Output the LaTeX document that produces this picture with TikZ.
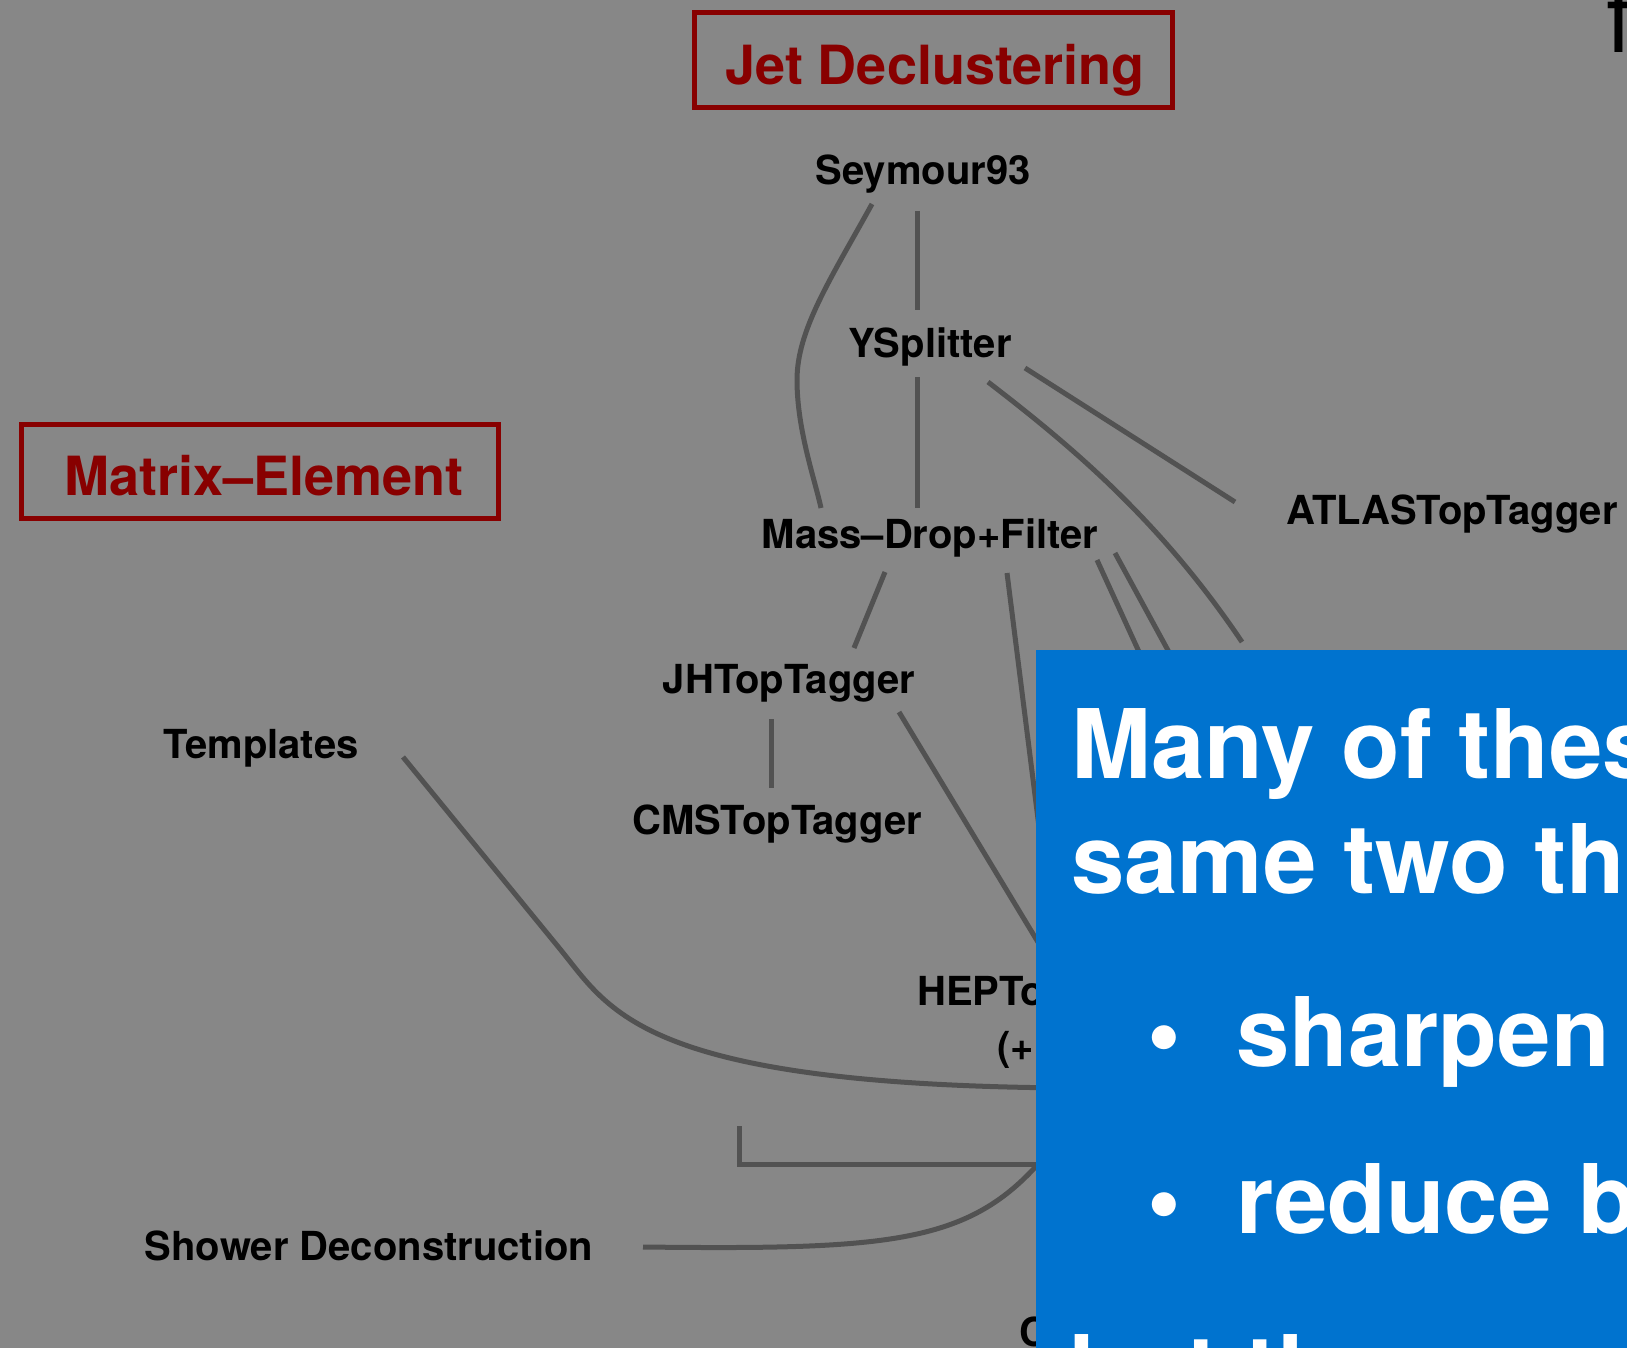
\documentclass[tikz,border=0pt]{standalone}
\usepackage{fontspec}
\setmainfont{TeX Gyre Heros}
\usepackage{xcolor}
\usetikzlibrary{positioning,calc}

\definecolor{bggray}{RGB}{135,135,135}
\definecolor{lngray}{RGB}{82,82,82}
\definecolor{dkred}{RGB}{136,0,0}
\definecolor{slideblue}{RGB}{0,115,207}

\begin{document}
\begin{tikzpicture}[
  x=1pt, y=-1pt,
  lbl/.style={font=\fontsize{40}{48}\selectfont\bfseries, text=black,
              inner sep=0pt, anchor=base},
  ttl/.style={font=\fontsize{54}{64}\selectfont\bfseries, text=dkred,
              inner sep=0pt, anchor=base},
  ttlbox/.style={draw=dkred, line width=5pt, inner sep=0pt},
  note/.style={fill=slideblue, inner sep=0pt, anchor=north west},
  notetxt/.style={font=\fontsize{96}{115}\selectfont\bfseries, text=white,
                  inner sep=0pt, anchor=base west},
  conn/.style={draw=lngray, line width=5pt},
]

\useasboundingbox (0,0) rectangle (1627,1348);
\clip (0,0) rectangle (1627,1348);
\fill[bggray] (0,0) rectangle (1627,1348);

%% Group titles
\node[ttlbox, minimum width=478pt, minimum height=95pt] (jetbox) at (933.5,60) {};
\node[ttl] (jettxt) at (935,85) {Jet Declustering};
\node[ttlbox, minimum width=477pt, minimum height=94pt] (mebox) at (260,471.5) {};
\node[ttl] (metxt) at (264,495) {Matrix--Element};

%% Taggers
\node[lbl] (seym) at (923,185) {Seymour93};
\node[lbl] (ysplit) at (930,357) {YSplitter};
\node[lbl] (mdf) at (930,548) {Mass--Drop+Filter};
\node[lbl] (atlas) at (1452,524) {ATLASTopTagger};
\node[lbl] (jhtt) at (789,693) {JHTopTagger};
\node[lbl] (cmstt) at (777,834) {CMSTopTagger};
\node[lbl] (templ) at (261,758) {Templates};
\node[lbl] (showdec) at (369,1260) {Shower Deconstruction};
\node[lbl, anchor=base west] (hept) at (917,1005) {HEPTo};
\node[lbl, anchor=base west] (heptb) at (997,1060) {(+};
\node[lbl, anchor=base west] (cbot) at (1019,1346) {C};

%% Free ends under the note
\coordinate (endA) at (1242,642);
\coordinate (endB) at (1161,700);
\coordinate (endC) at (1195,700);
\coordinate (endD) at (1040,835);
\coordinate (endE) at (1070,1088);
\coordinate (endF) at (739,1126);
\coordinate (endG) at (1070,1164);
\coordinate (endH) at (1050,1150);

%% Links
\draw[conn] ($(seym.base)+(-6,26)$) -- ($(ysplit.base)+(-13,-47)$);
\draw[conn] ($(ysplit.base)+(-13,20)$) -- ($(mdf.base)+(-13,-40)$);
\draw[conn] ($(seym.base)+(-51,19)$) .. controls (830,280) and (797,330) .. (797,380)
  .. controls (797,430) and (815,480) .. ($(mdf.base)+(-109,-40)$);
\draw[conn] ($(ysplit.base)+(95,11)$) -- ($(atlas.base)+(-217,-22)$);
\draw[conn] ($(ysplit.base)+(58,25)$) .. controls (1070,445) and (1160,520) .. (endA);
\draw[conn] ($(mdf.base)+(167,12)$) -- (endB);
\draw[conn] ($(mdf.base)+(185,5)$) -- (endC);
\draw[conn] ($(mdf.base)+(77,25)$) -- (endD);
\draw[conn] ($(mdf.base)+(-45,24)$) -- ($(jhtt.base)+(65,-45)$);
\draw[conn] ($(jhtt.base)+(-18,26)$) -- ($(cmstt.base)+(-6,-46)$);
\draw[conn] ($(jhtt.base)+(110,19)$) -- ($(hept.base west)+(133,-43)$);
\draw[conn] ($(templ.base)+(142,-1)$) -- (560,949)
  .. controls (610,1010) and (640,1085) .. (endE);
\draw[conn] (endF) |- (endG);
\draw[conn] ($(showdec.base)+(274,-13)$) .. controls (900,1250) and (975,1243) .. (endH);

%% Overlay note
\node[note, minimum width=600pt, minimum height=700pt] (notebox) at (1036,650) {};
\node[notetxt] (line1) at (1071,778) {Many of thes};
\node[notetxt] (line2) at (1071,893) {same two th};
\node[notetxt, anchor=base] (bul1) at (1164,1066) {\textbullet};
\node[notetxt] (item1) at (1236,1066) {sharpen};
\node[notetxt, anchor=base] (bul2) at (1164,1233) {\textbullet};
\node[notetxt] (item2) at (1236,1233) {reduce b};
\node[notetxt] (line3) at (1069,1404) {but th};

%% Title fragment
\node[font=\fontsize{96}{115}\selectfont, inner sep=0pt, anchor=base west] (ttlfrag) at (1606,53) {f};

\end{tikzpicture}
\end{document}
